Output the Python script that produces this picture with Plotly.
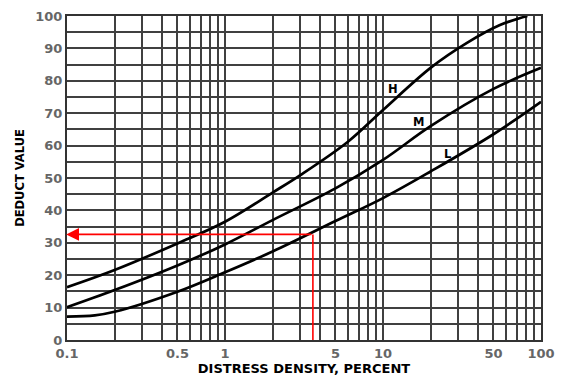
import math
import plotly.graph_objects as go

# ---- data ----
h_x = [0.1, 0.2, 0.5, 1, 2, 3, 6, 10, 20, 34, 55, 82]
h_y = [16.3, 21.6, 29.8, 36.5, 45.5, 50.9, 61.2, 71.0, 84.0, 91.7, 97.2, 100]

m_x = [0.1, 0.2, 0.5, 1, 2, 5, 10, 20, 50, 100]
m_y = [10.1, 15.4, 23.0, 29.5, 37.0, 46.8, 55.6, 66.0, 77.5, 84.0]

l_x = [0.1, 0.15, 0.2, 0.5, 1, 2, 5, 10, 20, 50, 100]
l_y = [7.2, 7.6, 8.7, 14.9, 20.9, 27.3, 36.7, 43.8, 52.0, 63.5, 73.5]

curve_labels = ["H", "M", "L"]
label_x = [11.6, 16.7, 25.8]
label_y = [77.5, 67.3, 57.4]

example_density = 3.6
example_deduct = 32.6

x_grid_vals = [m * 10 ** e for e in (-1, 0, 1) for m in range(1, 10)] + [100]
x_labeled = {0.1: "0.1", 0.5: "0.5", 1: "1", 5: "5", 10: "10", 50: "50", 100: "100"}
y_tick_vals = list(range(0, 101, 10))

# ---- figure ----
fig = go.Figure()
line_style = dict(color="black", width=2.7, shape="spline", smoothing=1.0)
for xs, ys in ((h_x, h_y), (m_x, m_y), (l_x, l_y)):
    fig.add_trace(go.Scatter(x=xs, y=ys, mode="lines", line=line_style,
                             hoverinfo="skip", showlegend=False, cliponaxis=True))

# red example lines
fig.add_trace(go.Scatter(x=[example_density, example_density], y=[0, example_deduct],
                         mode="lines", line=dict(color="red", width=1.6),
                         showlegend=False, hoverinfo="skip"))
fig.add_annotation(x=math.log10(0.1) - 0.005, y=example_deduct,
                   ax=math.log10(example_density), ay=example_deduct,
                   axref="x", ayref="y", xref="x", yref="y",
                   showarrow=True, arrowhead=2, arrowsize=1.6, arrowwidth=1.6,
                   arrowcolor="red", text="", standoff=0)

for t, lx, ly in zip(curve_labels, label_x, label_y):
    fig.add_annotation(x=math.log10(lx), y=ly, text=t, showarrow=False,
                       font=dict(family="DejaVu Sans", size=11.5, color="black", weight=700))

grid_col = "#404040"
grid_w = 1.8
tick_font = dict(family="DejaVu Sans", size=13, color="#666666", weight=700)
fig.update_xaxes(type="log", range=[-1, 2], tickvals=x_grid_vals,
                 ticktext=[x_labeled.get(round(v, 6), "") for v in x_grid_vals],
                 showgrid=True, gridcolor=grid_col, gridwidth=grid_w, automargin=False,
                 showline=True, linecolor="#333333", linewidth=2, mirror=True,
                 ticks="", tickfont=tick_font, zeroline=False,
                 title=dict(text="DISTRESS DENSITY, PERCENT", standoff=4,
                            font=dict(family="DejaVu Sans", size=13, color="black", weight=700)))
fig.update_yaxes(range=[0, 100], tickvals=y_tick_vals, automargin=False,
                 showgrid=True, gridcolor=grid_col, gridwidth=grid_w,
                 minor=dict(dtick=5, showgrid=True, gridcolor=grid_col, gridwidth=grid_w),
                 showline=True, linecolor="#333333", linewidth=2, mirror=True,
                 ticks="", tickfont=tick_font, zeroline=False,
                 title=dict(text="DEDUCT VALUE", standoff=8,
                            font=dict(family="DejaVu Sans", size=11.5, color="black", weight=700)))
fig.update_layout(width=566, height=376, autosize=False,
                  margin=dict(l=67, r=25, t=16, b=36),
                  paper_bgcolor="white", plot_bgcolor="white")
fig.write_html("out.html", config={"displayModeBar": False},
               post_script="document.body.style.margin='0';document.body.style.overflow='hidden';")
